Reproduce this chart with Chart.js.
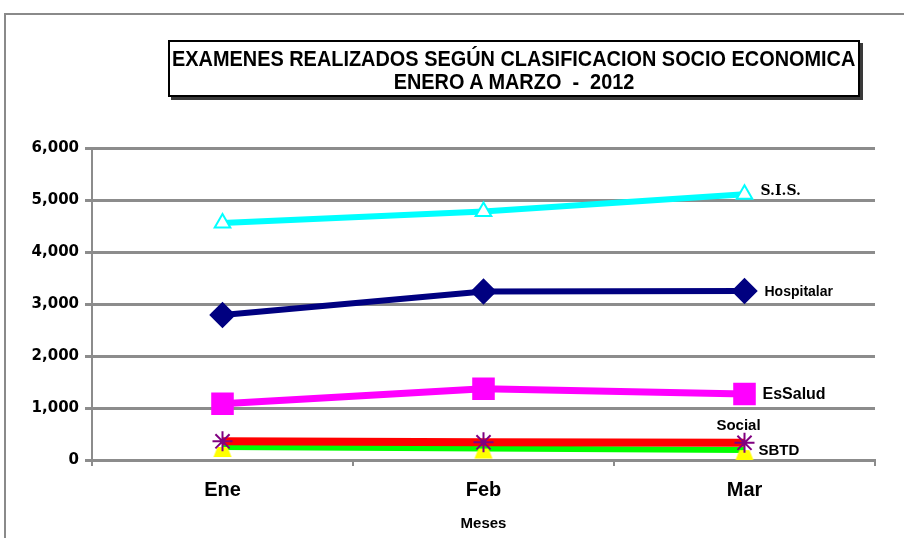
<!DOCTYPE html>
<html>
<head>
<meta charset="utf-8">
<script src="https://cdn.jsdelivr.net/npm/chart.js@4.4.0/dist/chart.umd.min.js"></script>
<style>
  html, body { margin: 0; padding: 0; background: #fff; }
  #wrap { position: relative; width: 904px; height: 538px; overflow: hidden; }
  #frame { position: absolute; left: 4px; top: 13px; width: 940px; height: 560px;
    border-top: 2px solid #8a8a8a; border-left: 2px solid #8a8a8a; }
  #chart { position: absolute; left: 0; top: 0; }
  #titleBox { position: absolute; left: 168px; top: 40px; width: 688px; height: 53px;
    border: 2px solid #000; box-shadow: 3px 3px 0 #3a3a3a; background: #fff;
    font-family: "Liberation Sans", Arial, sans-serif;
    font-weight: bold; font-size: 22px; color: #000; }
  #titleBox div { height: 23px; line-height: 23px; white-space: nowrap;
    display: flex; justify-content: center; }
  #titleBox span { display: inline-block; flex: none; transform-origin: center; }
</style>
</head>
<body>
<div id="wrap">
  <div id="frame"></div>
  <canvas id="chart" width="904" height="538"></canvas>
  <div id="titleBox">
    <div style="margin-top:5px"><span id="t1">EXAMENES REALIZADOS SEGÚN CLASIFICACION SOCIO ECONOMICA</span></div>
    <div><span id="t2">ENERO A MARZO&nbsp; -&nbsp; 2012</span></div>
  </div>
</div>
<script>
// datos
var meses = ["Ene", "Feb", "Mar"];
var series = ["S.I.S.", "Hospitalar", "EsSalud", "Social", "SBTD"];
var sis = [4560, 4780, 5110];
var hospitalar = [2790, 3240, 3250];
var esSalud = [1080, 1370, 1270];
var social = [360, 340, 330];
var sbtd = [250, 220, 190];
var yMin = 0, yMax = 6000, yStep = 1000;

// ajustar ancho del titulo
var t1 = document.getElementById("t1");
var t2 = document.getElementById("t2");
var k = 683 / t1.offsetWidth;
t1.style.transform = "scaleX(" + k + ")";
t2.style.transform = "scaleX(" + k + ")";

// triangulo amarillo (parte visible bajo la linea verde)
var tri = document.createElement("canvas");
tri.width = 20;
tri.height = 40;
var tc = tri.getContext("2d");
tc.fillStyle = "#FFFF00";
tc.beginPath();
tc.moveTo(1, 30);
tc.lineTo(19, 30);
tc.lineTo(15, 20);
tc.lineTo(5, 20);
tc.closePath();
tc.fill();

var labelStyles = [
  { dx: 16, dy: -3, align: "left", font: "bold 14px 'DejaVu Serif'" },
  { dx: 20, dy: 1, align: "left", font: "bold 14px 'Liberation Sans'" },
  { dx: 18, dy: 1, align: "left", font: "bold 16px 'Liberation Sans'" },
  { dx: -6, dy: -17, align: "center", font: "bold 15px 'Liberation Sans'" },
  { dx: 14, dy: 1, align: "left", font: "bold 15px 'Liberation Sans'" }
];

var seriesLabels = {
  id: "seriesLabels",
  afterDatasetsDraw: function (chart) {
    var ctx = chart.ctx;
    ctx.save();
    ctx.fillStyle = "#000";
    ctx.textBaseline = "middle";
    chart.data.datasets.forEach(function (ds, i) {
      var meta = chart.getDatasetMeta(i);
      var pt = meta.data[meta.data.length - 1];
      var st = labelStyles[i];
      ctx.font = st.font;
      ctx.textAlign = st.align;
      ctx.fillText(ds.label, pt.x + st.dx, pt.y + st.dy);
    });
    ctx.restore();
  }
};

var ctx = document.getElementById("chart").getContext("2d");
var chart = new Chart(ctx, {
  type: "line",
  data: {
    labels: meses,
    datasets: [
      {
        label: series[0],
        data: sis,
        borderColor: "#00FFFF",
        borderWidth: 6,
        pointStyle: "triangle",
        pointRadius: 9,
        pointBackgroundColor: "#fff",
        pointBorderColor: "#00FFFF",
        pointBorderWidth: 2
      },
      {
        label: series[1],
        data: hospitalar,
        borderColor: "#000080",
        borderWidth: 6,
        pointStyle: "rectRot",
        pointRadius: 9,
        pointBackgroundColor: "#000080",
        pointBorderColor: "#000080"
      },
      {
        label: series[2],
        data: esSalud,
        borderColor: "#FF00FF",
        borderWidth: 7,
        pointStyle: "rect",
        pointRadius: 11,
        pointBackgroundColor: "#FF00FF",
        pointBorderColor: "#FF00FF"
      },
      {
        label: series[3],
        data: social,
        borderColor: "#FF0000",
        borderWidth: 8,
        pointStyle: "star",
        pointRadius: 10,
        pointBackgroundColor: "#800080",
        pointBorderColor: "#800080",
        pointBorderWidth: 2
      },
      {
        label: series[4],
        data: sbtd,
        borderColor: "#00FF00",
        borderWidth: 6,
        pointStyle: tri,
        pointRadius: 10
      }
    ]
  },
  options: {
    responsive: false,
    animation: false,
    devicePixelRatio: 1,
    layout: { padding: { left: 4, top: 148, right: 29, bottom: 0 } },
    elements: { line: { tension: 0 } },
    plugins: {
      legend: { display: false },
      tooltip: { enabled: false }
    },
    scales: {
      x: {
        offset: true,
        afterFit: function (scale) { scale.height = 78; },
        grid: {
          offset: true,
          drawOnChartArea: false,
          drawTicks: true,
          tickLength: 6,
          color: "#8c8c8c",
          lineWidth: 2
        },
        border: { display: true, color: "#8c8c8c", width: 3 },
        ticks: {
          color: "#000",
          padding: 12,
          font: { family: "'Liberation Sans'", size: 20, weight: "bold" }
        },
        title: {
          display: true,
          text: "Meses",
          color: "#000",
          padding: { top: 0, bottom: 5 },
          font: { family: "'Liberation Sans'", size: 15, weight: "bold" }
        }
      },
      y: {
        min: yMin,
        max: yMax,
        afterFit: function (scale) { scale.width = 88; },
        grid: {
          color: "#8c8c8c",
          lineWidth: 3,
          tickLength: 7,
          drawTicks: true
        },
        border: { display: true, color: "#8c8c8c", width: 2 },
        ticks: {
          stepSize: yStep,
          color: "#000",
          padding: 6,
          font: { family: "'DejaVu Sans'", size: 15, weight: "bold" },
          callback: function (v) { return v.toLocaleString("en-US"); }
        }
      }
    }
  },
  plugins: [seriesLabels]
});
</script>
</body>
</html>
